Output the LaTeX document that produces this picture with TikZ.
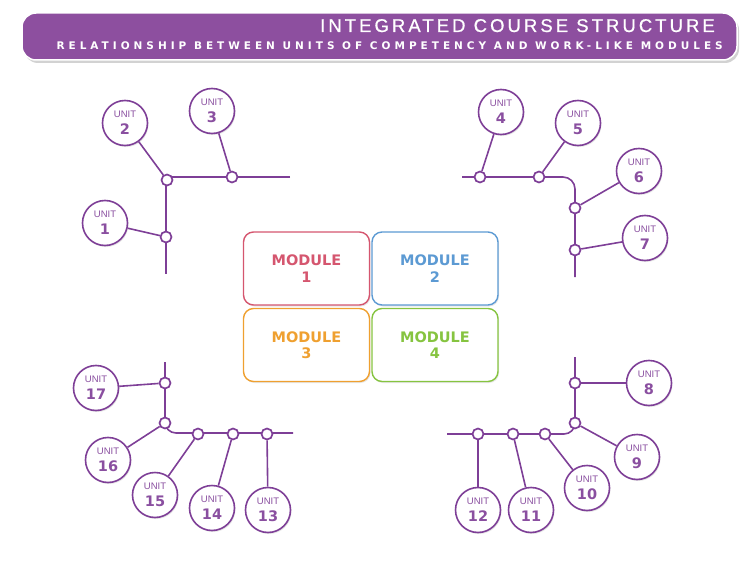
\documentclass[tikz,border=0pt]{standalone}
\usepackage{fontspec}
\setmainfont{Liberation Sans}
\newfontfamily\heavyfont{DejaVu Sans}
\usetikzlibrary{shadows}
\definecolor{banner}{HTML}{8D4F9F}
\definecolor{upurple}{HTML}{7E3F97}
\definecolor{utext}{HTML}{8A4FA0}
\definecolor{m1}{HTML}{D5566F}
\definecolor{m2}{HTML}{5C9AD3}
\definecolor{m3}{HTML}{EFA030}
\definecolor{m4}{HTML}{86C440}
\tikzset{
  unitc/.style={circle, draw=upurple, line width=1.6pt, fill=white, minimum size=45pt, inner sep=0pt, align=center, text=utext,
    font=\fontsize{9.5}{17}\selectfont,
    drop shadow={opacity=0.2, shadow xshift=1pt, shadow yshift=-1.5pt}},
  junc/.style={circle, draw=upurple, line width=1.7pt, fill=white, minimum size=11pt, inner sep=0pt},
  trunk/.style={draw=upurple, line width=1.6pt},
  modbox/.style={rectangle, rounded corners=10pt, line width=1.4pt, fill=white, minimum width=126pt, minimum height=73pt, inner sep=0pt, align=center,
    font=\heavyfont\bfseries\fontsize{14.5}{16.5}\selectfont,
    drop shadow={opacity=0.2, shadow xshift=1pt, shadow yshift=-1.5pt}},
}
\newcommand{\unittxt}[1]{UNIT\\{\heavyfont\bfseries\fontsize{14.5}{17}\selectfont #1}}
\begin{document}
\begin{tikzpicture}[x=1pt,y=-1pt]
\useasboundingbox (0,0) rectangle (750,578);
% banner
\fill[gray!35, rounded corners=14pt] (24,16) rectangle (739,63);
\draw[rounded corners=14pt, fill=banner, draw=white, line width=1.5pt] (22,13) rectangle (737,60);
\node[anchor=base east, text=white, inner sep=0pt, font=\fontsize{18.5}{18}\selectfont\addfontfeature{LetterSpace=16.5,FakeBold=0.8}] (title) at (715,32) {INTEGRATED COURSE STRUCTURE};
\node[anchor=base east, text=white, inner sep=0pt, font=\heavyfont\bfseries\fontsize{10.5}{11}\selectfont\addfontfeature{LetterSpace=38}] (subtitle) at (723,50) {RELATIONSHIP BETWEEN UNITS OF COMPETENCY AND WORK-LIKE MODULES};

% modules
\node[modbox, draw=m1, text=m1] (mod1) at (306.5,268.5) {MODULE\\1};
\node[modbox, draw=m2, text=m2] (mod2) at (435,268.5) {MODULE\\2};
\node[modbox, draw=m3, text=m3] (mod3) at (306.5,345) {MODULE\\3};
\node[modbox, draw=m4, text=m4] (mod4) at (435,345) {MODULE\\4};

% ---------- top-left
\coordinate (tlE) at (290,177);
\coordinate (tlS) at (166,274);
\path[trunk] (tlE) -- (166,177) -- (tlS);
\node[unitc] (u1) at (105,223) {\unittxt{1}};
\node[unitc] (u2) at (125,123) {\unittxt{2}};
\node[unitc] (u3) at (212,111) {\unittxt{3}};
\node[junc] (j2) at (167,180) {};
\node[junc] (j3) at (232,177) {};
\node[junc] (j1) at (166,237) {};
\draw[trunk] (u1) -- (j1);
\draw[trunk] (u2) -- (j2);
\draw[trunk] (u3) -- (j3);

% ---------- top-right
\coordinate (trW) at (462,177);
\coordinate (trS) at (575,277);
\path[trunk, rounded corners=12pt] (trW) -- (575,177) -- (trS);
\node[unitc] (u4) at (501,112) {\unittxt{4}};
\node[unitc] (u5) at (578,123) {\unittxt{5}};
\node[unitc] (u6) at (639,171) {\unittxt{6}};
\node[unitc] (u7) at (645,238) {\unittxt{7}};
\node[junc] (j4) at (480,177) {};
\node[junc] (j5) at (539,177) {};
\node[junc] (j6) at (575,208) {};
\node[junc] (j7) at (575,250) {};
\draw[trunk] (u4) -- (j4);
\draw[trunk] (u5) -- (j5);
\draw[trunk] (u6) -- (j6);
\draw[trunk] (u7) -- (j7);

% ---------- bottom-right
\coordinate (brN) at (575,357);
\coordinate (brW) at (447,434);
\path[trunk, rounded corners=11pt] (brN) -- (575,434) -- (brW);
\node[unitc] (u8) at (649,383) {\unittxt{8}};
\node[unitc] (u9) at (637,457) {\unittxt{9}};
\node[unitc] (u10) at (587,488) {\unittxt{10}};
\node[unitc] (u11) at (531,510) {\unittxt{11}};
\node[unitc] (u12) at (478,510) {\unittxt{12}};
\node[junc] (j8) at (575,383) {};
\node[junc] (j9) at (575,423) {};
\node[junc] (j10) at (545,434) {};
\node[junc] (j11) at (513,434) {};
\node[junc] (j12) at (478,434) {};
\draw[trunk] (u8) -- (j8);
\draw[trunk] (u9) -- (j9);
\draw[trunk] (u10) -- (j10);
\draw[trunk] (u11) -- (j11);
\draw[trunk] (u12) -- (j12);

% ---------- bottom-left
\coordinate (blN) at (165,362);
\coordinate (blE) at (293,433);
\path[trunk, rounded corners=11pt] (blN) -- (165,433) -- (blE);
\node[unitc] (u13) at (268,510) {\unittxt{13}};
\node[unitc] (u14) at (212,508) {\unittxt{14}};
\node[unitc] (u15) at (155,495) {\unittxt{15}};
\node[unitc] (u16) at (108,460) {\unittxt{16}};
\node[unitc] (u17) at (96,388) {\unittxt{17}};
\node[junc] (j17) at (165,383) {};
\node[junc] (j16) at (165,423) {};
\node[junc] (j15) at (198,434) {};
\node[junc] (j14) at (233,434) {};
\node[junc] (j13) at (267,434) {};
\draw[trunk] (u13) -- (j13);
\draw[trunk] (u14) -- (j14);
\draw[trunk] (u15) -- (j15);
\draw[trunk] (u16) -- (j16);
\draw[trunk] (u17) -- (j17);
\end{tikzpicture}
\end{document}
